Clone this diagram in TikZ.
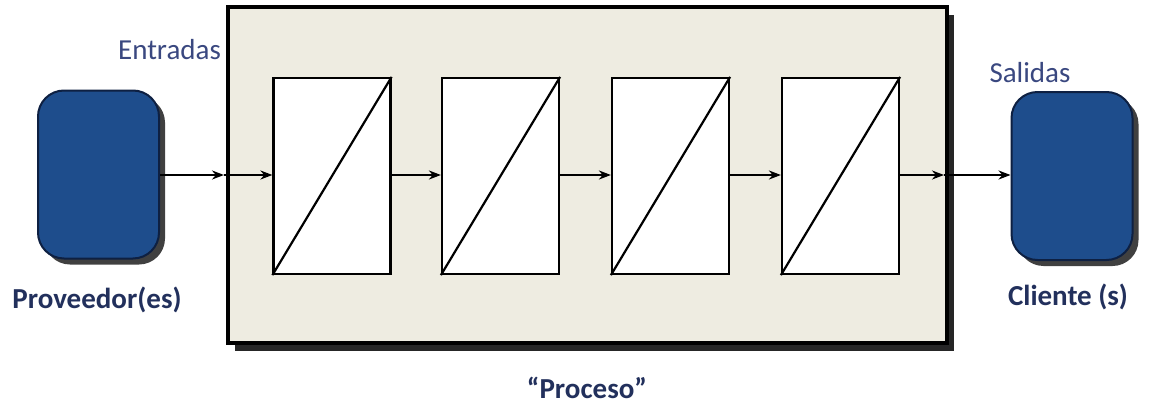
\documentclass[tikz,border=0pt]{standalone}
\usepackage{fontspec}
\setmainfont{Carlito}
\usetikzlibrary{arrows.meta,shadows}
\definecolor{procfill}{RGB}{238,236,225}
\definecolor{actorfill}{RGB}{30,77,140}
\definecolor{actorline}{RGB}{14,32,66}
\definecolor{labelblue}{RGB}{34,48,92}
\definecolor{textblue}{RGB}{58,72,128}
\begin{document}
\begin{tikzpicture}[x=1pt, y=-1pt, >=Stealth,
  every node/.style={font=\fontsize{29}{34}\selectfont},
  procbox/.style={draw, line width=3.2pt, fill=procfill, minimum width=719pt, minimum height=336pt,
    drop shadow={shadow xshift=7pt, shadow yshift=-8pt, fill=black, opacity=0.85}},
  actor/.style={draw=actorline, line width=2pt, fill=actorfill, rounded corners=26pt,
    minimum width=121pt, minimum height=168pt,
    drop shadow={shadow xshift=6pt, shadow yshift=-6pt, fill=black, opacity=0.75}},
  stepbox/.style={draw, line width=2.2pt, fill=white, minimum width=117pt, minimum height=196pt},
  flow/.style={->, line width=2pt}]
  \useasboundingbox (0,0) rectangle (1156,404);
  \node[procbox] (proc) at (587.5,175) {};
  \node[actor] (prov) at (98.5,174.5) {};
  \node[actor] (cli) at (1072,176) {};
  \node[stepbox] (b1) at (332,176) {};
  \node[stepbox] (b2) at (500.5,176) {};
  \node[stepbox] (b3) at (670.5,176) {};
  \node[stepbox] (b4) at (840.5,176) {};
  \foreach \b in {b1,b2,b3,b4}
    \draw[line width=2.2pt] (\b.south west) -- (\b.north east);
  \coordinate (pin) at (224,175);
  \coordinate (pout) at (944,175);
  \draw[flow] (prov.east |- pin) -- (pin);
  \draw[flow] (pin) -- (b1.west |- pin);
  \draw[flow] (b1.east |- pin) -- (b2.west |- pin);
  \draw[flow] (b2.east |- pin) -- (b3.west |- pin);
  \draw[flow] (b3.east |- pin) -- (b4.west |- pin);
  \draw[flow] (b4.east |- pin) -- (pout);
  \draw[flow] (pout) -- (cli.west |- pout);
  \node[text=textblue] (ent) at (169.5,50) {Entradas};
  \node[text=textblue] (sal) at (1030,73) {Salidas};
  \node[text=labelblue, font=\fontsize{29}{34}\selectfont\bfseries] (provlbl) at (97,300) {Proveedor(es)};
  \node[text=labelblue, font=\fontsize{29}{34}\selectfont\bfseries] (clilbl) at (1068,297) {Cliente (s)};
  \node[text=labelblue, font=\fontsize{29}{34}\selectfont\bfseries] (proclbl) at (587,388) {“Proceso”};
\end{tikzpicture}
\end{document}
